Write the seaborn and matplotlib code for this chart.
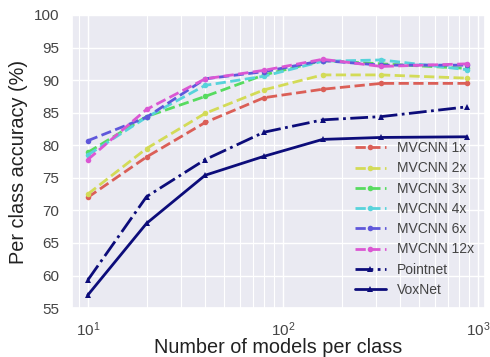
import matplotlib
matplotlib.use("Agg")
import matplotlib.pyplot as plt
import seaborn as sns
import pandas as pd

# Training-set sizes (models per class)
models_per_class = [10, 20, 40, 80, 160, 320, 880]

# Per class accuracy (%) for each method
mvcnn_1x = [72.0, 78.2, 83.5, 87.3, 88.6, 89.5, 89.5]
mvcnn_2x = [72.5, 79.5, 84.9, 88.5, 90.8, 90.8, 90.3]
mvcnn_3x = [78.9, 84.4, 87.5, 90.8, 93.0, 92.5, 91.8]
mvcnn_4x = [78.5, 84.3, 89.2, 90.6, 92.9, 93.1, 91.6]
mvcnn_6x = [80.7, 84.3, 90.2, 91.3, 93.0, 92.3, 92.3]
mvcnn_12x = [77.8, 85.5, 90.2, 91.5, 93.2, 92.1, 92.5]
pointnet = [59.3, 72.1, 77.8, 82.0, 83.9, 84.4, 85.9]
voxnet = [57.0, 68.0, 75.4, 78.3, 80.9, 81.2, 81.3]

series = {
    "MVCNN 1x": mvcnn_1x,
    "MVCNN 2x": mvcnn_2x,
    "MVCNN 3x": mvcnn_3x,
    "MVCNN 4x": mvcnn_4x,
    "MVCNN 6x": mvcnn_6x,
    "MVCNN 12x": mvcnn_12x,
    "Pointnet": pointnet,
    "VoxNet": voxnet,
}

sns.set_theme(style="darkgrid")
plt.rcParams["font.family"] = ["Liberation Sans", "DejaVu Sans"]

hls = sns.color_palette("hls", 6)
navy = "#0c0c7a"
styles = {
    "MVCNN 1x": dict(color=hls[0], ls="--", marker="o"),
    "MVCNN 2x": dict(color=hls[1], ls="--", marker="o"),
    "MVCNN 3x": dict(color=hls[2], ls="--", marker="o"),
    "MVCNN 4x": dict(color=hls[3], ls="--", marker="o"),
    "MVCNN 6x": dict(color=hls[4], ls="--", marker="o"),
    "MVCNN 12x": dict(color=hls[5], ls="--", marker="o"),
    "Pointnet": dict(color=navy, ls="-.", marker="^"),
    "VoxNet": dict(color=navy, ls="-", marker="^"),
}

fig = plt.figure(figsize=(4.9, 3.57), dpi=100)
ax = fig.add_axes([0.147, 0.137, 0.843, 0.821])

for name, values in series.items():
    df = pd.DataFrame({"n": models_per_class, "acc": values})
    st = styles[name]
    sns.lineplot(data=df, x="n", y="acc", ax=ax, color=st["color"],
                 linestyle=st["ls"], marker=st["marker"], markersize=4,
                 markeredgewidth=0, linewidth=2, label=name)

ax.set_xscale("log")
ax.set_xlim(8.3, 1090)
ax.set_ylim(55, 100)
ax.set_yticks(range(55, 101, 5))
ax.grid(which="major", color="white", linewidth=1.0)
ax.grid(which="minor", color="white", linewidth=0.8)
ax.tick_params(axis="both", labelsize=11, colors="#444444", pad=3)
ax.set_xlabel("Number of models per class", fontsize=14.3, color="#222222", labelpad=-1)
ax.set_ylabel("Per class accuracy (%)", fontsize=14.3, color="#222222", labelpad=4)

leg = ax.legend(loc="lower right", frameon=False, fontsize=10,
                handlelength=2.2, labelspacing=0.45, borderaxespad=0.4)
for t in leg.get_texts():
    t.set_color("#444444")

fig.savefig("out.png", dpi=100)
